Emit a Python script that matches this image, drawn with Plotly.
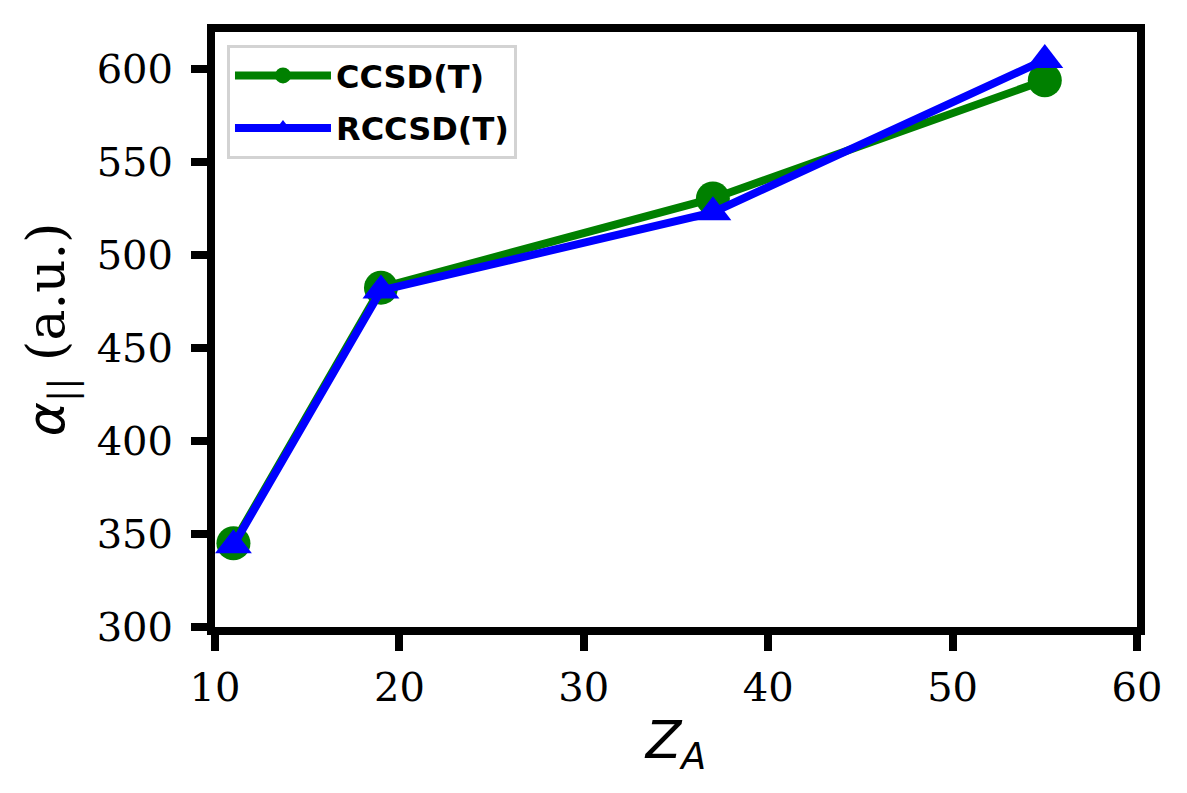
import plotly.graph_objects as go

z_a = [11, 19, 37, 55]
ccsd_t = [345, 482.5, 530.5, 594]
rccsd_t = [344, 481, 523, 605]
x_ticks = [10, 20, 30, 40, 50, 60]
y_ticks = [300, 350, 400, 450, 500, 550, 600]

fig = go.Figure()
fig.add_trace(go.Scatter(
    x=z_a, y=ccsd_t, mode="lines+markers", name="<b>CCSD(T)</b>",
    legendgroup="a",
    line=dict(color="green", width=8),
    marker=dict(symbol="circle", size=34, color="green"),
))
fig.add_trace(go.Scatter(
    x=z_a, y=rccsd_t, mode="lines+markers", name="<b>RCCSD(T)</b>",
    legendgroup="b",
    line=dict(color="blue", width=8),
    marker=dict(symbol="triangle-up", size=32, color="blue"),
))

axis_common = dict(
    showline=True, linecolor="black", linewidth=8, mirror=True,
    ticks="outside", ticklen=16, tickwidth=8, tickcolor="black",
    showgrid=False, zeroline=False,
    tickfont=dict(family="DejaVu Serif", size=40, color="black"),
)

# page body has an 8px default margin, so figure is sized/offset to compensate
fig.update_layout(
    width=1179, height=785,
    margin=dict(l=207, r=50, t=24, b=166),
    plot_bgcolor="white", paper_bgcolor="white",
    showlegend=True,
    legend=dict(
        x=0.013, y=0.978, xanchor="left", yanchor="top",
        bgcolor="rgba(255,255,255,0.9)", bordercolor="#d3d3d3", borderwidth=3,
        font=dict(family="DejaVu Sans", size=32, color="black"),
        itemwidth=96, tracegroupgap=8,
    ),
    xaxis=dict(range=[10, 60], tickvals=x_ticks, ticklabelstandoff=2,
               title=dict(text="<i>Z</i><sub><i>A</i></sub>",
                          font=dict(family="DejaVu Sans", size=52, color="black"),
                          standoff=16),
               **axis_common),
    yaxis=dict(range=[300, 620], tickvals=y_ticks, ticklabelstandoff=10,
               title=dict(text="<span style='font-family:DejaVu Sans'><i>α</i></span><sub>||</sub> (a.u.)",
                          font=dict(family="DejaVu Serif", size=52, color="black"),
                          standoff=18),
               **axis_common),
)

fig.write_html("out.html")
